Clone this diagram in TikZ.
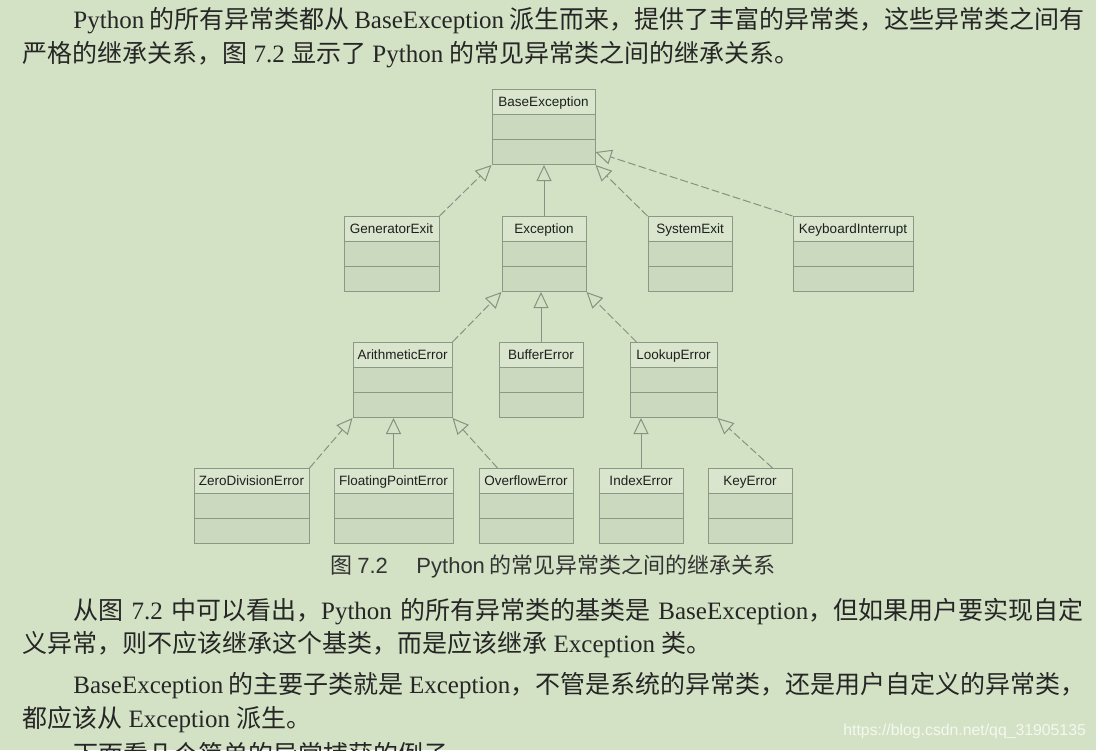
\documentclass[tikz,border=0pt]{standalone}
\usepackage{fontspec}
\usetikzlibrary{shapes,arrows.meta,positioning,calc}
\newfontfamily\cjk{Noto Sans CJK SC}
\newfontfamily\enfont{Liberation Serif}
\newfontfamily\classfont{Liberation Sans}
\XeTeXlinebreaklocale "zh"
\XeTeXlinebreakskip=0pt plus 1pt minus 1.8pt
\definecolor{pagegreen}{RGB}{211,226,197}
\definecolor{boxline}{RGB}{140,152,134}
\definecolor{namefill}{RGB}{217,230,205}
\definecolor{partfill}{RGB}{203,217,191}
\definecolor{linkgray}{RGB}{135,146,130}
\newcommand\en[1]{{\enfont #1}}
\newcommand\gap{\hskip 0.25em plus 0.6em minus 0.05em\relax}
\newcommand\cellstrut{\rule[-4pt]{0pt}{12pt}}
\newcommand\classbox[1]{#1\cellstrut\nodepart{two}\cellstrut\nodepart{three}\cellstrut}

\begin{document}
\begin{tikzpicture}[x=0.5pt,y=-0.5pt,
    umlclass/.style={rectangle split, rectangle split parts=3, anchor=north,
      draw=boxline, line width=0.5pt, inner sep=0pt,
      rectangle split part fill={namefill,partfill,partfill},
      font=\classfont\fontsize{6.75pt}{8pt}\selectfont, text=black!88},
    inherit/.style={draw=linkgray, line width=0.5pt,
      -{Triangle[open,length=8pt,width=7.5pt]}},
    inheritdash/.style={inherit, dash pattern=on 4pt off 1.5pt},
    bodyline/.style={anchor=base west, inner sep=0pt, text=black!85,
      font=\cjk\fontsize{12.5pt}{15pt}\selectfont}]
  \useasboundingbox (0,0) rectangle (1096,750);
  \fill[pagegreen] (0,0) rectangle (1096,750);

  % text above the figure
  \node[bodyline] (intro1) at (73,28) {\hbox to 503.5pt{\en{Python}\gap 的所有异常类都从\gap\en{BaseException}\gap 派生而来，提供了丰富的异常类，这些异常类之间有}};
  \node[bodyline] (intro2) at (22,62) {严格的继承关系，图\gap\en{7.2}\gap 显示了\gap\en{Python}\gap 的常见异常类之间的继承关系。};

  % class boxes
  \node[umlclass, minimum width=51.5pt] (base) at (543.5,89) {\classbox{BaseException}};
  \node[umlclass, minimum width=47.5pt] (genexit) at (391.5,216) {\classbox{GeneratorExit}};
  \node[umlclass, minimum width=42pt] (exception) at (544,216) {\classbox{Exception}};
  \node[umlclass, minimum width=42pt] (sysexit) at (690,216) {\classbox{SystemExit}};
  \node[umlclass, minimum width=60pt] (kbint) at (853,216) {\classbox{KeyboardInterrupt}};
  \node[umlclass, minimum width=49.5pt] (arith) at (402.5,342) {\classbox{ArithmeticError}};
  \node[umlclass, minimum width=42pt] (buffer) at (541,342) {\classbox{BufferError}};
  \node[umlclass, minimum width=43.5pt] (lookup) at (673.5,342) {\classbox{LookupError}};
  \node[umlclass, minimum width=57.5pt] (zerodiv) at (251.5,468) {\classbox{ZeroDivisionError}};
  \node[umlclass, minimum width=59.5pt] (fpe) at (393.5,468) {\classbox{FloatingPointError}};
  \node[umlclass, minimum width=47pt] (overflow) at (526,468) {\classbox{OverflowError}};
  \node[umlclass, minimum width=42pt] (index) at (641,468) {\classbox{IndexError}};
  \node[umlclass, minimum width=42pt] (keyerr) at (750,468) {\classbox{KeyError}};

  % inheritance arrows
  \draw[inheritdash] (genexit.north east) -- (base.south west);
  \draw[inherit] (exception.north) -- (exception.north |- base.south);
  \draw[inheritdash] (sysexit.north west) -- (base.south east);
  \draw[inheritdash] (kbint.north west) -- ($(base.south east)!0.17!(base.north east)$);
  \draw[inheritdash] (arith.north east) -- (exception.south west);
  \draw[inherit] (buffer.north) -- (buffer.north |- exception.south);
  \draw[inheritdash] ([xshift=3.5pt]lookup.north west) -- (exception.south east);
  \draw[inheritdash] (zerodiv.north east) -- (arith.south west);
  \draw[inherit] (fpe.north) -- (fpe.north |- arith.south);
  \draw[inheritdash] ([xshift=9.5pt]overflow.north west) -- (arith.south east);
  \draw[inherit] (index.north) -- (index.north |- lookup.south);
  \draw[inheritdash] ([xshift=-10pt]keyerr.north east) -- (lookup.south east);

  % caption and text below
  \node[anchor=base west, inner sep=0pt, text=black!80,
    font=\cjk\fontsize{11pt}{13pt}\selectfont] (caption) at (330,573) {图 {\classfont 7.2}\hspace{1.3em}{\classfont Python} 的常见异常类之间的继承关系};
  \node[bodyline] (para1a) at (73,619) {\hbox to 505pt{从图\gap\en{7.2}\gap 中可以看出，\en{Python}\gap 的所有异常类的基类是\gap\en{BaseException}，但如果用户要实现自定}};
  \node[bodyline] (para1b) at (22,652) {义异常，则不应该继承这个基类，而是应该继承\gap\en{Exception}\gap 类。};
  \node[bodyline] (para2a) at (73,693) {\hbox to 506pt{\en{BaseException}\gap 的主要子类就是\gap\en{Exception}，不管是系统的异常类，还是用户自定义的异常类，}};
  \node[bodyline] (para2b) at (22,727) {都应该从\gap\en{Exception}\gap 派生。};
  \node[bodyline] (para3a) at (73,763) {下面看几个简单的异常捕获的例子。};
  \node[anchor=base west, inner sep=0pt, text=white!75!pagegreen,
    font=\classfont\fontsize{7.9pt}{9pt}\selectfont] (mark) at (843,735) {https://blog.csdn.net/qq\_31905135};
\end{tikzpicture}
\end{document}
